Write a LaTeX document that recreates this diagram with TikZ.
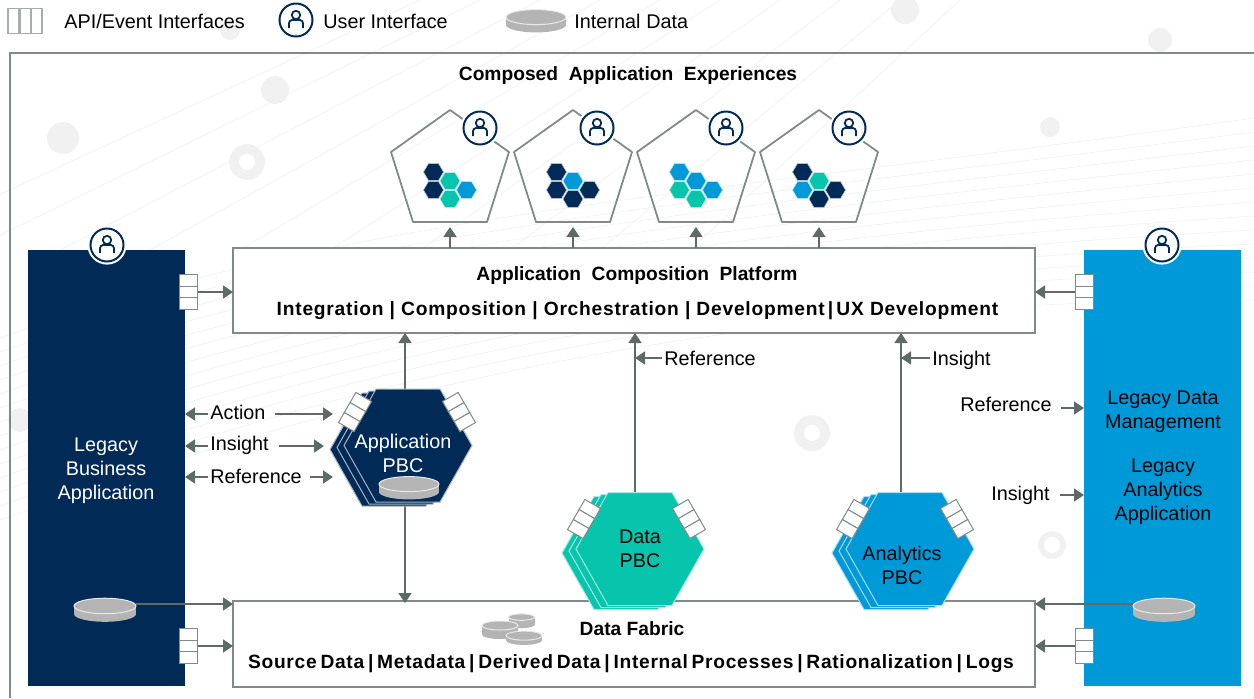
\documentclass[tikz,border=0pt]{standalone}
\usepackage{fontspec}
\setmainfont{Liberation Sans}
\usetikzlibrary{arrows.meta,shapes.geometric}
\definecolor{navy}{HTML}{012A56}
\definecolor{sky}{HTML}{0099D8}
\definecolor{teal}{HTML}{07C4AC}
\definecolor{edge}{HTML}{7F8B88}
\definecolor{tip}{HTML}{5E6A68}
\definecolor{disk}{HTML}{B4B4B4}
\definecolor{wash}{HTML}{F1F1F1}
\tikzset{
  arr/.style={-{Triangle[length=5pt,width=6.5pt]},tip,line width=.9pt},
  lbl/.style={font=\fontsize{9.9}{12}\selectfont,align=center,inner sep=0pt},
  hdr/.style={font=\fontsize{9.6}{12}\selectfont\bfseries,inner sep=0pt},
  bar/.style={font=\fontsize{9.6}{12}\selectfont\bfseries\addfontfeatures{LetterSpace=4},inner sep=0pt},
  tightbar/.style={font=\fontsize{9.6}{12}\selectfont\bfseries\addfontfeatures{LetterSpace=3.7},inner sep=0pt},
  panel/.style={draw=edge,fill=white,line width=.9pt,inner sep=0pt,outer sep=0pt,anchor=north west},
  legacy/.style={inner sep=0pt,outer sep=0pt,anchor=north west,minimum width=78.5pt,minimum height=218pt},
  ifbox/.style={draw=edge,fill=white,line width=.5pt,inner sep=0pt,outer sep=0pt,minimum width=9pt,minimum height=5.8pt},
  legbox/.style={draw=edge!70,fill=white,line width=.9pt,inner sep=0pt,outer sep=0pt,minimum width=5.4pt,minimum height=12.5pt},
  usericon/.style={circle,draw=navy,fill=white,line width=1pt,inner sep=0pt,minimum size=16.5pt},
  hexbox/.style={inner sep=0pt,outer sep=0pt,minimum width=64pt,minimum height=57pt},
  pentbox/.style={inner sep=0pt,outer sep=0pt,minimum width=59pt,minimum height=56pt},
  diskbox/.style={inner sep=0pt,outer sep=0pt,minimum height=11pt},
}
% three stacked interface boxes
\newcommand{\ifstack}[4]{
\node[ifbox,rotate=#4] (#1m) at (#2,#3) {};
\node[ifbox,rotate=#4,anchor=south] (#1t) at (#1m.north) {};
\node[ifbox,rotate=#4,anchor=north] (#1b) at (#1m.south) {};
}
% user icon
\newcommand{\usermark}[3]{
\fill[white] (#2,#3) circle (9.8pt);
\node[usericon] (#1) at (#2,#3) {};
\fill[white,draw=navy,line width=.9pt] (#2,#3-5) circle (2.1pt);
\draw[navy,line width=.9pt,rounded corners=1.6pt] (#2-7,#3+8) -- (#2-7,#3) -- (#2+7,#3) -- (#2+7,#3+8);
}
% grey disk, #5 is half its width, #1 half its thickness against that
\newcommand{\datadisk}[5][.13]{
\node[diskbox,minimum width=#5pt] (#2) at (#3,#4) {};
\fill[disk] (#3,#4+#1*#5) ellipse ({#5*.5pt} and {#5*.125pt});
\fill[disk] (#3-#5,#4-#1*#5) rectangle (#3+#5,#4+#1*#5);
\filldraw[fill=disk,draw=white!70!disk,line width=.5pt] (#3,#4-#1*#5) ellipse ({#5*.5pt} and {#5*.125pt});
}
% small hexagon
\newcommand{\hexcell}[3]{
\filldraw[fill=#3,draw=white!70!#3,line width=.3pt] (#1-10,#2) -- (#1-5,#2-8.5) -- (#1+5,#2-8.5) -- (#1+10,#2) -- (#1+5,#2+8.5) -- (#1-5,#2+8.5) -- cycle;
}
% pentagon with its five hexagons
\newcommand{\pentcard}[8]{
\node[pentbox,anchor=north] (#1) at (#2,110) {};
\draw[edge,line width=.9pt,line join=round] (#2,110) -- (#2+59,152) -- (#2+37,222) -- (#2-37,222) -- (#2-59,152) -- cycle;
\hexcell{#2-16.5}{172}{#3}
\hexcell{#2-16.5}{190}{#5}
\hexcell{#2+16.5}{190}{#6}
\hexcell{#2}{181}{#4}
\hexcell{#2}{199}{#7}
\usermark{#1u}{#2+#8}{128}
}
% stacked PBC hexagon
\newcommand{\pbc}[4]{
\node[hexbox] (#1) at (#2,#3) {};
\foreach \dx/\dy in {-14/4,-7/2,0/0}
\filldraw[fill=#4,draw=white!65!#4,line width=.5pt] (#2+\dx-32,#3+\dy-56.5) -- (#2+\dx+32,#3+\dy-56.5) -- (#2+\dx+64,#3+\dy) -- (#2+\dx+32,#3+\dy+56.5) -- (#2+\dx-32,#3+\dy+56.5) -- (#2+\dx-64,#3+\dy) -- cycle;
}
\begin{document}
\begin{tikzpicture}[x=.5pt,y=-.5pt]
\useasboundingbox (0,0) rectangle (1254,698);
% backdrop
\foreach \k in {0,...,13}
\draw[wash,line width=.3pt] (0,{520-\k*14}) .. controls (350,{395-\k*14}) and (700,{300-\k*8}) .. (1254,{300-\k*14});
\foreach \k in {0,...,9}
\draw[wash,line width=.3pt] ({420+\k*60},0) -- ({\k*90-120},250);
\foreach \x/\y/\r in {63/138/8,247/162/9,1050/127/5,905/10/7,1052/545/7,812/433/9,20/420/6,275/90/7,1160/40/6,230/30/5}
\fill[wash] (\x,\y) circle (\r pt);
\foreach \x/\y in {247/162,812/433,1052/545}
\fill[white] (\x,\y) circle (4pt);
% legend
\node[legbox] (lega) at (13.5,21) {};
\node[legbox] (legb) at (25,21) {};
\node[legbox] (legc) at (36.5,21) {};
\node[lbl,anchor=west] (legapi) at (64,21) {API/Event Interfaces};
\usermark{leguser}{296}{20}
\node[lbl,anchor=west] (legui) at (323,21) {User Interface};
\datadisk{legdisk}{536}{21}{30}
\node[lbl,anchor=west] (legdata) at (574,21) {Internal\hspace{3pt}Data};
% frame
\draw[edge,line width=.9pt] (10,698) -- (10,53) -- (1254,53);
\node[hdr] (title) at (628,76) {Composed\ \ Application\ \ Experiences};
% pentagons
\pentcard{pone}{450}{navy}{teal}{navy}{sky}{teal}{30}
\pentcard{ptwo}{573}{navy}{sky}{navy}{navy}{navy}{24}
\pentcard{pthree}{696}{sky}{sky}{teal}{sky}{teal}{30}
\pentcard{pfour}{819}{navy}{teal}{sky}{navy}{navy}{30}
% boxes
\node[panel,minimum width=401pt,minimum height=42.5pt] (platform) at (233,248) {};
\node[hdr] (platname) at (637,276) {Application\ \ Composition\ \ Platform};
\node[bar] (platlist) at (637.5,311) {Integration | Composition | Orchestration | Development\,|\,UX Development};
\node[panel,minimum width=401pt,minimum height=43pt] (fabric) at (233,601) {};
\node[hdr] (fabname) at (632,629) {Data Fabric};
\node[tightbar] (fablist) at (631,664) {\spaceskip=1.9pt\relax Source Data | Metadata | Derived Data | Internal Processes | Rationalization | Logs};
\node[legacy,fill=navy] (lbiz) at (28,250) {};
\node[legacy,fill=sky] (rbiz) at (1084,250) {};
\node[lbl,text=white] (lbiztext) at (106,471) {Legacy\\Business\\Application};
\node[lbl] (rmgmt) at (1163,412) {Legacy Data\\Management};
\node[lbl] (rana) at (1163,492) {Legacy\\Analytics\\Application};
\usermark{luser}{107}{245}
\usermark{ruser}{1162}{245}
\ifstack{lta}{188.5}{292}{0}
\ifstack{rta}{1084}{292}{0}
\ifstack{lba}{188.5}{646}{0}
\ifstack{rba}{1084}{646}{0}
\datadisk{ldisk}{105}{610}{31}
\datadisk{rdisk}{1164}{610}{31}
% small disks in the fabric
\datadisk[.3]{fda}{521.5}{621}{13}
\datadisk[.25]{fdb}{500}{630}{18}
\datadisk{fdc}{524}{638}{18}
% arrows to the composition
\draw[arr] (pone.south |- platform.north) -- ([yshift=-2.5pt]pone.south);
\draw[arr] (ptwo.south |- platform.north) -- ([yshift=-2.5pt]ptwo.south);
\draw[arr] (pthree.south |- platform.north) -- ([yshift=-2.5pt]pthree.south);
\draw[arr] (pfour.south |- platform.north) -- ([yshift=-2.5pt]pfour.south);
\draw[arr] (ltam.east) -- (ltam.east -| platform.west);
\draw[arr] (rtam.west) -- (rtam.west -| platform.east);
\draw[arr] (lbam.east) -- (lbam.east -| fabric.west);
\draw[arr] (rbam.west) -- (rbam.west -| fabric.east);
\draw[arr] ([yshift=3pt]ldisk.east) -- ([yshift=3pt]ldisk.east -| fabric.west);
\draw[arr] ([yshift=3pt]rdisk.west) -- ([yshift=3pt]rdisk.west -| fabric.east);
% PBC connectors
\coordinate (apptop) at (405,389);
\coordinate (appbot) at (405,505);
\coordinate (datatop) at (635,493);
\coordinate (anatop) at (901,493);
\draw[arr] (apptop) -- (apptop |- platform.south);
\draw[arr] (appbot) -- ([yshift=-1pt]appbot |- fabric.north);
\draw[arr] (datatop) -- (datatop |- platform.south);
\draw[arr] (anatop) -- (anatop |- platform.south);
% PBCs
\pbc{apppbc}{408}{445.5}{navy}
\pbc{datapbc}{640}{549}{teal}
\pbc{anapbc}{910}{549}{sky}
\node[lbl,text=white] (apptext) at (403,453) {Application\\PBC};
\node[lbl] (datatext) at (640,549) {Data\\PBC};
\node[lbl] (anatext) at (902,565) {Analytics\\PBC};
\datadisk{appdisk}{409}{488}{30}
\ifstack{appl}{355}{412}{-30}
\ifstack{appr}{459}{412}{30}
\ifstack{datal}{584}{519}{-30}
\ifstack{datar}{689}{519}{30}
\ifstack{anal}{853}{519}{-30}
\ifstack{anar}{957}{519}{30}
% labels with arrows
\node[lbl,anchor=west] (lact) at (210,412) {Action};
\node[lbl,anchor=west] (lins) at (210,445) {Insight};
\node[lbl,anchor=west] (lref) at (210,476) {Reference};
\coordinate (lacte) at (333,414);
\coordinate (linse) at (324,446);
\coordinate (lrefe) at (333,477);
\draw[arr] ([xshift=-1pt]lact.west |- lacte) -- (lbiz.east |- lacte);
\draw[arr] ([xshift=-1pt]lins.west |- linse) -- (lbiz.east |- linse);
\draw[arr] ([xshift=-1pt]lref.west |- lrefe) -- (lbiz.east |- lrefe);
\draw[arr] ([xshift=4.5pt]lact.east |- lacte) -- (lacte);
\draw[arr] ([xshift=5pt]lins.east |- linse) -- (linse);
\draw[arr] ([xshift=4pt]lref.east |- lrefe) -- (lrefe);
\node[lbl,anchor=west] (dref) at (664,358) {Reference};
\node[lbl,anchor=west] (ains) at (932,360) {Insight};
\draw[arr] ([xshift=-1pt]dref.west) -- (dref.west -| datatop);
\draw[arr] ([xshift=-1pt,yshift=1pt]ains.west) -- ([yshift=1pt]ains.west -| anatop);
\node[lbl,anchor=east] (rref) at (1052,404) {Reference};
\node[lbl,anchor=east] (rins) at (1050,495) {Insight};
\coordinate (rrefe) at (1084,408);
\coordinate (rinse) at (1084,495);
\draw[arr] ([xshift=4.5pt]rref.east |- rrefe) -- (rrefe);
\draw[arr] ([xshift=5pt]rins.east |- rinse) -- (rinse);
\end{tikzpicture}
\end{document}
